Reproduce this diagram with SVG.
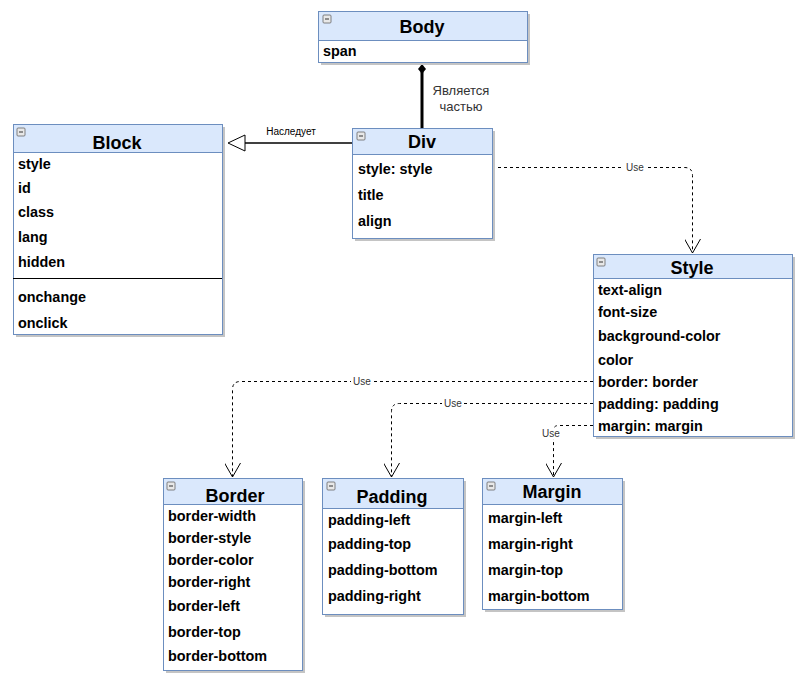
<svg xmlns="http://www.w3.org/2000/svg" width="806" height="684" viewBox="0 0 806 684">
<style>
.sh{fill:#c4c4c4}
.hd{fill:#dae8fc;stroke:#6c8ebf;stroke-width:1}
.bd{fill:#ffffff;stroke:#6c8ebf;stroke-width:1}
.t{font-family:"Liberation Sans",Arial,sans-serif;font-weight:bold;font-size:18px;fill:#000;text-anchor:middle}
.r{font-family:"Liberation Sans",Arial,sans-serif;font-weight:bold;font-size:14.4px;fill:#000}
.ic{fill:#e8e8e8;stroke:#666;stroke-width:0.8}
.icl{stroke:#333;stroke-width:1}
.dash{fill:none;stroke:#000;stroke-width:1;stroke-dasharray:3,3}
.lbl{font-family:"Liberation Sans",Arial,sans-serif;font-size:10px;fill:#333;text-anchor:middle}
</style>
<defs>
<marker id="open" viewBox="0 0 16 16" refX="15" refY="8" markerWidth="16" markerHeight="16" markerUnits="userSpaceOnUse" orient="auto">
<path d="M1,0 L15,8 L1,16" fill="none" stroke="#000" stroke-width="1"/>
</marker>
<g id="minus"><rect class="ic" x="0" y="0" width="8" height="8" rx="1"/><line class="icl" x1="2" y1="4" x2="6" y2="4"/></g>
</defs>

<g id="connectors">
<!-- composition Body-Div -->
<line x1="422" y1="72" x2="422" y2="128" stroke="#000" stroke-width="3"/>
<path d="M422,64 L426,69 L422,74 L418,69 Z" fill="#000"/>
<text x="461" y="95" font-family="'Liberation Sans',Arial,sans-serif" font-size="13" fill="#333" text-anchor="middle">Является</text>
<text x="461" y="111" font-family="'Liberation Sans',Arial,sans-serif" font-size="13" fill="#333" text-anchor="middle">частью</text>
<!-- inheritance Div-Block -->
<line x1="245" y1="143" x2="352" y2="143" stroke="#000" stroke-width="1.3"/>
<path d="M245,135 L228,143 L245,151 Z" fill="#fff" stroke="#000" stroke-width="1"/>
<text x="291" y="135" font-family="'Liberation Sans',Arial,sans-serif" font-size="10" fill="#000" text-anchor="middle">Наследует</text>
<!-- Div -> Style -->
<path class="dash" d="M492,167.5 L684.5,167.5 Q692.5,167.5 692.5,175.5 L692.5,253" marker-end="url(#open)"/>
<rect x="624" y="161" width="22" height="12" fill="#fff"/>
<text class="lbl" x="635" y="171">Use</text>
<!-- Style -> Border -->
<path class="dash" d="M593,381.5 L240.5,381.5 Q232.5,381.5 232.5,389.5 L232.5,477" marker-end="url(#open)"/>
<rect x="351" y="376" width="22" height="11" fill="#fff"/>
<text class="lbl" x="362" y="385">Use</text>
<!-- Style -> Padding -->
<path class="dash" d="M593,403.5 L399.5,403.5 Q391.5,403.5 391.5,411.5 L391.5,477" marker-end="url(#open)"/>
<rect x="442" y="398" width="22" height="11" fill="#fff"/>
<text class="lbl" x="453" y="407">Use</text>
<!-- Style -> Margin -->
<path class="dash" d="M593,425.5 L558.5,425.5 Q553.5,425.5 553.5,430.5 L553.5,477" marker-end="url(#open)"/>
<rect x="540" y="428" width="22" height="11" fill="#fff"/>
<text class="lbl" x="551" y="437">Use</text>
</g>

<g id="body">
<rect class="sh" x="321" y="14" width="209" height="51"/>
<rect class="bd" x="318.5" y="11.5" width="209" height="51"/>
<rect class="hd" x="318.5" y="11.5" width="209" height="29"/>
<use href="#minus" x="323" y="15"/>
<text class="t" x="422" y="33">Body</text>
<text class="r" x="323" y="56">span</text>
</g>

<g id="div">
<rect class="sh" x="355" y="131" width="140" height="110"/>
<rect class="bd" x="352.5" y="128.5" width="140" height="110"/>
<rect class="hd" x="352.5" y="128.5" width="140" height="26"/>
<use href="#minus" x="357" y="132"/>
<text class="t" x="422" y="148">Div</text>
<text class="r" x="358" y="174">style: style</text>
<text class="r" x="358" y="200">title</text>
<text class="r" x="358" y="226">align</text>
</g>

<g id="block">
<rect class="sh" x="16" y="127" width="209" height="210"/>
<rect class="bd" x="13.5" y="124.5" width="209" height="210"/>
<rect class="hd" x="13.5" y="124.5" width="209" height="28"/>
<use href="#minus" x="17" y="128"/>
<text class="t" x="117" y="149">Block</text>
<text class="r" x="18" y="169">style</text>
<text class="r" x="18" y="193">id</text>
<text class="r" x="18" y="217">class</text>
<text class="r" x="18" y="242">lang</text>
<text class="r" x="18" y="267">hidden</text>
<line x1="13" y1="278.5" x2="222" y2="278.5" stroke="#000" stroke-width="1"/>
<text class="r" x="18" y="302">onchange</text>
<text class="r" x="18" y="328">onclick</text>
</g>

<g id="style">
<rect class="sh" x="596" y="257" width="199" height="182"/>
<rect class="bd" x="593.5" y="254.5" width="199" height="182"/>
<rect class="hd" x="593.5" y="254.5" width="199" height="24"/>
<use href="#minus" x="597" y="258"/>
<text class="t" x="692" y="274">Style</text>
<text class="r" x="598" y="295">text-align</text>
<text class="r" x="598" y="317">font-size</text>
<text class="r" x="598" y="341">background-color</text>
<text class="r" x="598" y="365">color</text>
<text class="r" x="598" y="387">border: border</text>
<text class="r" x="598" y="409">padding: padding</text>
<text class="r" x="598" y="431">margin: margin</text>
</g>

<g id="border">
<rect class="sh" x="166" y="481" width="139" height="192"/>
<rect class="bd" x="163.5" y="478.5" width="139" height="192"/>
<rect class="hd" x="163.5" y="478.5" width="139" height="26"/>
<use href="#minus" x="167" y="482"/>
<text class="t" x="235" y="502">Border</text>
<text class="r" x="168" y="521">border-width</text>
<text class="r" x="168" y="543">border-style</text>
<text class="r" x="168" y="565">border-color</text>
<text class="r" x="168" y="587">border-right</text>
<text class="r" x="168" y="611">border-left</text>
<text class="r" x="168" y="637">border-top</text>
<text class="r" x="168" y="661">border-bottom</text>
</g>

<g id="padding">
<rect class="sh" x="325" y="481" width="141" height="136"/>
<rect class="bd" x="322.5" y="478.5" width="141" height="136"/>
<rect class="hd" x="322.5" y="478.5" width="141" height="30"/>
<use href="#minus" x="327" y="482"/>
<text class="t" x="392" y="503">Padding</text>
<text class="r" x="328" y="525">padding-left</text>
<text class="r" x="328" y="549">padding-top</text>
<text class="r" x="328" y="575">padding-bottom</text>
<text class="r" x="328" y="601">padding-right</text>
</g>

<g id="margin">
<rect class="sh" x="485" y="481" width="140" height="131"/>
<rect class="bd" x="482.5" y="478.5" width="140" height="131"/>
<rect class="hd" x="482.5" y="478.5" width="140" height="26"/>
<use href="#minus" x="487" y="482"/>
<text class="t" x="552" y="498">Margin</text>
<text class="r" x="488" y="523">margin-left</text>
<text class="r" x="488" y="549">margin-right</text>
<text class="r" x="488" y="575">margin-top</text>
<text class="r" x="488" y="601">margin-bottom</text>
</g>
</svg>
